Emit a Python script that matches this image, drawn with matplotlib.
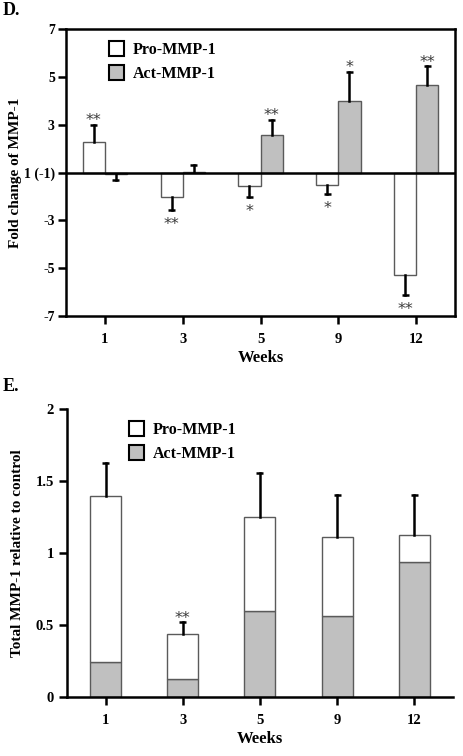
import matplotlib
matplotlib.use('Agg')
import matplotlib.pyplot as plt
from matplotlib.patches import Patch
import numpy as np

plt.rcParams['font.family'] = 'Liberation Serif'
plt.rcParams['font.weight'] = 'bold'

# datos
weeks = ['1', '3', '5', '9', '12']

# panel D: cambio (fold change) de MMP-1
pro_d = [2.26, -2.04, -1.55, -1.51, -5.29]
pro_d_err = [0.74, 0.53, 0.48, 0.38, 0.85]
act_d = [-1.05, 1.02, 2.58, 4.00, 4.68]
act_d_err = [0.25, 0.30, 0.63, 1.22, 0.76]
pro_d_sig = ['**', '**', '*', '*', '**']
act_d_sig = ['', '', '**', '*', '**']

# panel E: total MMP-1 relativo al control
total_e = [1.394, 0.435, 1.250, 1.109, 1.123]
act_e = [0.243, 0.125, 0.597, 0.562, 0.937]
total_e_err = [0.231, 0.085, 0.306, 0.296, 0.282]
e_sig = ['', '**', '', '', '']

gray = '#c0c0c0'
edge = '#5a5a5a'


def to_axis(v):
    v = np.asarray(v, dtype=float)
    return np.where(v >= 0, v - 1, v + 1)


def star(ax, xi, yi, s, up):
    # asterisco centrado ~8 px arriba / ~9 px abajo del extremo
    dy = -0.5 if up else -13.5
    ax.annotate(s, (xi, yi), xytext=(0, dy), textcoords='offset points',
                ha='center', va='baseline', fontsize=11.5, color='#3a3a3a',
                family='DejaVu Sans', fontweight='normal', zorder=5)


def errbar(ax, xi, y0, y1):
    ax.plot([xi, xi], [y0, y1], color='black', lw=1.8, zorder=3)
    ax.plot([xi - 0.045, xi + 0.045], [y1, y1], color='black', lw=1.8,
            solid_capstyle='butt', zorder=3)


fig = plt.figure(figsize=(4.63, 7.56), dpi=100)

# ---------- D ----------
ax1 = fig.add_axes([0.1425, 0.582, 0.8405, 0.3796])
x = np.arange(len(weeks))
w = 0.285


def draw_pair(ax, xpos, vals, errs, color, sig):
    vals = np.asarray(vals, dtype=float)
    sgn = np.sign(vals)
    h = to_axis(vals)
    tip = to_axis(vals + sgn * np.asarray(errs))
    ax.bar(xpos, h, w, color=color, edgecolor=edge, linewidth=1.0, zorder=2)
    for xi, hi, ti, s in zip(xpos, h, tip, sig):
        errbar(ax, xi, hi, ti)
        if s:
            star(ax, xi, ti, s, ti >= 0)


draw_pair(ax1, x - w / 2, pro_d, pro_d_err, 'white', pro_d_sig)
draw_pair(ax1, x + w / 2, act_d, act_d_err, gray, act_d_sig)

ax1.axhline(0, color='black', lw=1.8, zorder=4)
ax1.set_xlim(-0.5, 4.5)
ax1.set_ylim(-6, 6)
ax1.set_yticks([6, 4, 2, 0, -2, -4, -6])
ax1.set_yticklabels(['7', '5', '3', '1 (-1)', '-3', '-5', '-7'])
ax1.set_xticks(x)
ax1.set_xticklabels(weeks)
for s in ax1.spines.values():
    s.set_linewidth(1.8)
ax1.tick_params(width=1.8, length=6, labelsize=10.5, direction='out')
ax1.tick_params(axis='x', pad=6)
ax1.tick_params(axis='y', pad=2, labelsize=10)
ax1.set_xlabel('Weeks', fontsize=12, fontweight='bold', labelpad=3)
ax1.set_ylabel('Fold change of MMP-1', fontsize=11, fontweight='bold')
ax1.yaxis.set_label_coords(-0.112, 0.5)
h1 = [Patch(facecolor='white', edgecolor='black', linewidth=1.5, label='Pro-MMP-1'),
      Patch(facecolor=gray, edgecolor='black', linewidth=1.5, label='Act-MMP-1')]
ax1.legend(handles=h1, loc='upper left', bbox_to_anchor=(0.085, 0.99), frameon=False,
           fontsize=11.5, handlelength=0.95, handleheight=1.05, handletextpad=0.55,
           labelspacing=0.4, borderaxespad=0.2)
fig.text(0.005, 0.998, 'D.', fontsize=13, fontweight='bold', va='top')

# ---------- E ----------
ax2 = fig.add_axes([0.1447, 0.078, 0.8333, 0.381])
pro_e = np.array(total_e) - np.array(act_e)
we = 0.4
ax2.bar(x, act_e, we, color=gray, edgecolor=edge, linewidth=1.0, zorder=2)
ax2.bar(x, pro_e, we, bottom=act_e, color='white', edgecolor=edge, linewidth=1.0, zorder=2)
for xi, t, e, s in zip(x, total_e, total_e_err, e_sig):
    errbar(ax2, xi, t, t + e)
    if s:
        star(ax2, xi, t + e, s, True)

ax2.set_xlim(-0.5, 4.5)
ax2.set_ylim(0, 2)
ax2.set_yticks([0, 0.5, 1, 1.5, 2])
ax2.set_yticklabels(['0', '0.5', '1', '1.5', '2'])
ax2.set_xticks(x)
ax2.set_xticklabels(weeks)
ax2.spines['top'].set_visible(False)
ax2.spines['right'].set_visible(False)
for s in ['left', 'bottom']:
    ax2.spines[s].set_linewidth(1.8)
ax2.tick_params(width=1.8, length=6, labelsize=10.5, direction='out')
ax2.tick_params(axis='x', pad=6)
ax2.set_xlabel('Weeks', fontsize=12, fontweight='bold', labelpad=3)
ax2.set_ylabel('Total MMP-1 relative to control', fontsize=11, fontweight='bold')
ax2.yaxis.set_label_coords(-0.111, 0.5)
h2 = [Patch(facecolor='white', edgecolor='black', linewidth=1.5, label='Pro-MMP-1'),
      Patch(facecolor=gray, edgecolor='black', linewidth=1.5, label='Act-MMP-1')]
ax2.legend(handles=h2, loc='upper left', bbox_to_anchor=(0.135, 0.99), frameon=False,
           fontsize=11.5, handlelength=0.95, handleheight=1.05, handletextpad=0.55,
           labelspacing=0.4, borderaxespad=0.2)
fig.text(0.005, 0.5, 'E.', fontsize=13, fontweight='bold', va='top')

fig.savefig('out.png', dpi=100)
